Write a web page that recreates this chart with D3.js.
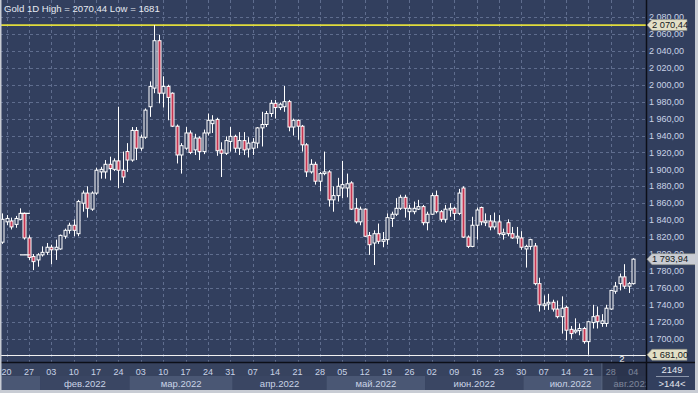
<!DOCTYPE html>
<html><head><meta charset="utf-8">
<script src="https://d3js.org/d3.v7.min.js"></script>
<style>html,body{margin:0;padding:0;background:#323f5e;overflow:hidden}svg{display:block}</style>
</head><body><svg id="c" width="698" height="393"></svg>
<script>
// ---------------- DATA ----------------
const dates = [
"2022-01-19","2022-01-20","2022-01-21","2022-01-24","2022-01-25","2022-01-26","2022-01-27","2022-01-28","2022-01-31",
"2022-02-01","2022-02-02","2022-02-03","2022-02-04","2022-02-07","2022-02-08","2022-02-09","2022-02-10","2022-02-11",
"2022-02-14","2022-02-15","2022-02-16","2022-02-17","2022-02-18","2022-02-21","2022-02-22","2022-02-23","2022-02-24","2022-02-25","2022-02-28",
"2022-03-01","2022-03-02","2022-03-03","2022-03-04","2022-03-07","2022-03-08","2022-03-09","2022-03-10","2022-03-11",
"2022-03-14","2022-03-15","2022-03-16","2022-03-17","2022-03-18","2022-03-21","2022-03-22","2022-03-23","2022-03-24","2022-03-25",
"2022-03-28","2022-03-29","2022-03-30","2022-03-31",
"2022-04-01","2022-04-04","2022-04-05","2022-04-06","2022-04-07","2022-04-08","2022-04-11","2022-04-12","2022-04-13","2022-04-14","2022-04-15",
"2022-04-18","2022-04-19","2022-04-20","2022-04-21","2022-04-22","2022-04-25","2022-04-26","2022-04-27","2022-04-28","2022-04-29",
"2022-05-02","2022-05-03","2022-05-04","2022-05-05","2022-05-06","2022-05-09","2022-05-10","2022-05-11","2022-05-12","2022-05-13",
"2022-05-16","2022-05-17","2022-05-18","2022-05-19","2022-05-20","2022-05-23","2022-05-24","2022-05-25","2022-05-26","2022-05-27","2022-05-30","2022-05-31",
"2022-06-01","2022-06-02","2022-06-03","2022-06-06","2022-06-07","2022-06-08","2022-06-09","2022-06-10","2022-06-13","2022-06-14","2022-06-15","2022-06-16","2022-06-17",
"2022-06-20","2022-06-21","2022-06-22","2022-06-23","2022-06-24","2022-06-27","2022-06-28","2022-06-29","2022-06-30",
"2022-07-01","2022-07-04","2022-07-05","2022-07-06","2022-07-07","2022-07-08","2022-07-11","2022-07-12","2022-07-13","2022-07-14","2022-07-15",
"2022-07-18","2022-07-19","2022-07-20","2022-07-21","2022-07-22","2022-07-25","2022-07-26","2022-07-27","2022-07-28","2022-07-29",
"2022-08-01","2022-08-02","2022-08-03","2022-08-04"];

const open = [1814,1838,1839,1835,1841,1848,1819,1797,1793,
1799,1802,1808,1805,1806,1821,1828,1834,1824,
1860,1872,1853,1872,1897,1897,1906,1900,1910,1899,1921,
1911,1946,1925,1938,1974,1996,2052,1990,1998,
1990,1951,1917,1925,1943,1923,1937,1921,1943,1954,
1959,1923,1919,1933,
1939,1925,1934,1924,1925,1931,1949,1953,1966,1978,1973,
1974,1980,1950,1958,1951,1929,1897,1906,1886,1895,
1897,1864,1869,1878,1878,1884,1854,1838,1853,1822,
1813,1824,1815,1817,1842,1847,1854,1867,1850,1850,1853,1856,
1837,1847,1869,1850,1841,1852,1854,1848,1878,1820,1809,1834,1855,
1837,1839,1832,1838,1823,1837,1824,1819,1819,
1806,1809,1809.5,1765,1739,1741,1743,1735,1726,1737,1711,
1708,1709.5,1712,1696.5,1719,1727,1718,1718,1735,1756,
1765,1773,1762,1765];

const high = [1848,1846,1843,1845,1854,1849,1822,1800,1801,
1809,1813,1811,1817,1823,1830,1837,1841,1864,
1875,1880,1874,1902,1903,1911,1915,1913,1974,1921,1931,
1950,1950,1941,1972,2004,2070.44,2059,2010,2000,
1991,1953,1931,1950,1946,1942,1939,1947,1966,1964,
1961,1932,1939,1950,
1941,1944,1944,1938,1937,1950,1968,1969,1982,1982,1979,
1998.5,1982,1960,1959,1952.5,1931,1912,1909,1897,1921,
1899,1880,1890,1910,1895,1886,1866,1856,1854,1826,
1828,1836,1826,1848,1850,1866,1870,1870,1858,1862,1864,1858,
1850,1872,1875,1852,1858,1860,1856,1877,1880,1822,1844,1855,1856,
1848,1846,1849,1846,1830,1841,1832,1832,1827,
1811,1818,1813,1772,1751,1753,1746,1745,1750,1739,1715,
1724,1718,1714,1721,1740,1738,1729,1740,1757,1767,
1777,1788,1767,1795];

const low = [1812,1834,1829,1831,1840,1817,1793,1781,1785,
1797,1799,1788,1793,1805,1818,1824,1821,1821,
1850,1843,1851,1870,1889,1889,1887,1898,1878,1884,1897,
1909,1911,1922,1936,1962,1990,1978,1973,1958,
1950,1907,1895,1923,1918,1917,1911,1918,1940,1943,
1916,1891,1917,1921,
1920,1917,1917,1914,1917,1925,1927,1950,1962,1960,1970,
1968,1945,1940,1935,1921,1891,1895,1882,1874,1893,
1856,1850,1862,1866,1867,1852,1836,1834,1820,1799,
1787,1812,1808,1811,1832,1845,1852,1843,1840,1847,1852,1834,
1828,1846,1848,1838,1837,1844,1840,1846,1819,1807,1808,1817,1834,
1833,1828,1829,1822,1817,1821,1818,1812,1805,
1784,1805,1763,1732,1734,1734,1732,1724,1706,1698,1700,
1706,1704,1694,1681,1712,1712,1714,1714,1734,1753,
1757,1759,1754,1764];

const close = [1841,1842,1832,1842,1848,1819,1796,1791,1799,
1802,1808,1805,1808,1822,1828,1834,1828,1862,
1872,1854,1872,1899,1900,1906,1901,1910,1899,1891,1911,
1946,1925,1938,1970,1998,2052,1990,1998,1985,
1951,1917,1928,1943,1920,1937,1921,1943,1958,1958,
1922,1919,1934,1939,
1925,1934,1923,1931,1932,1949,1953,1966,1978,1973,1977,
1980,1950,1958,1951,1929,1897,1906,1886,1895,1897,
1864,1869,1880,1882,1883,1853,1838,1853,1821,1811,
1824,1815,1817,1843,1847,1854,1867,1854,1854,1854,1856,1837,
1847,1869,1850,1841,1853,1854,1848,1872,1820,1809,1834,1852,1838,
1839,1832,1838,1824,1825,1824,1819,1821,1808,
1809,1817,1765,1740,1741,1743,1735,1726,1736,1710,1706,
1710,1712,1696.5,1720,1726,1720,1721,1736,1757,1762,
1773,1762,1765,1793.94];

const weekTicks = ["2022-01-20","2022-01-27","2022-02-03","2022-02-10","2022-02-17","2022-02-24",
"2022-03-03","2022-03-10","2022-03-17","2022-03-24","2022-03-31","2022-04-07","2022-04-14","2022-04-21","2022-04-28",
"2022-05-05","2022-05-12","2022-05-19","2022-05-26","2022-06-02","2022-06-09","2022-06-16","2022-06-23","2022-06-30",
"2022-07-07","2022-07-14","2022-07-21","2022-07-28","2022-08-04"];

const monthKeys = ["2022-01","2022-02","2022-03","2022-04","2022-05","2022-06","2022-07","2022-08"];
const monthLabels = ["","фев.2022","мар.2022","апр.2022","май.2022","июн.2022","июл.2022","авг.2022"];

const yTicks = [2080,2060,2040,2020,2000,1980,1960,1940,1920,1900,1880,1860,1840,1820,1800,1780,1760,1740,1720,1700];

// horizontal annotation segments (index from, index to, price)
const levelMarks = [{from:4, to:6.2, value:1848},{from:4, to:6.2, value:1799}];

const title = "Gold 1D High = 2070,44 Low = 1681";
const barCount = 2149, visibleBars = 144;

// ---------------- CHART ----------------
const W = 698, H = 393, plotR = 646, plotB = 362;
const BG = "#323f5e", GRID = "#5f6d8e", TXT = "#c9d3e6", BEAR = "#c43652";
const FONT = "'Liberation Sans', Arial, sans-serif";

const svg = d3.select("#c");
svg.append("rect").attr("width", W).attr("height", H).attr("fill", BG);

const x = d3.scalePoint().domain(dates).range([2.1, 633.2]);
const y = d3.scaleLinear().domain([1680, 2080]).range([355.6, 17]);
const xi = d3.scaleLinear().domain([0, dates.length - 1]).range([2.1, 633.2]);

const ru = d3.formatLocale({decimal: ",", thousands: " ", grouping: [3], currency: ["", ""]});
const fmt = ru.format(",.2f");

svg.append("clipPath").attr("id", "pc").append("rect").attr("x", 0).attr("y", 0).attr("width", plotR).attr("height", plotB);
const plot = svg.append("g").attr("clip-path", "url(#pc)");

// grid
plot.selectAll("line.hg").data(yTicks).join("line")
  .attr("x1", 0).attr("x2", plotR)
  .attr("y1", d => Math.round(y(d)) + 0.5).attr("y2", d => Math.round(y(d)) + 0.5)
  .attr("stroke", GRID).attr("stroke-dasharray", "3,3");
plot.selectAll("line.vg").data(weekTicks).join("line")
  .attr("x1", d => Math.round(x(d)) + 0.5).attr("x2", d => Math.round(x(d)) + 0.5)
  .attr("y1", 0).attr("y2", plotB)
  .attr("stroke", GRID).attr("stroke-dasharray", "3,3");

// level lines
plot.append("line").attr("x1", 0).attr("x2", plotR)
  .attr("y1", y(d3.max(high))).attr("y2", y(d3.max(high)))
  .attr("stroke", "#e0dc3c").attr("stroke-width", 1.6);
plot.append("line").attr("x1", 0).attr("x2", plotR)
  .attr("y1", Math.round(y(d3.min(low))) + 0.5).attr("y2", Math.round(y(d3.min(low))) + 0.5)
  .attr("stroke", "#f2f2f2").attr("stroke-width", 1.2);

// candles
const candles = dates.map((d, i) => ({d, o: open[i], h: high[i], l: low[i], c: close[i]}));
const cg = plot.selectAll("g.cd").data(candles).join("g");
cg.append("line")
  .attr("x1", d => Math.round(x(d.d)) + 0.5).attr("x2", d => Math.round(x(d.d)) + 0.5)
  .attr("y1", d => y(d.h)).attr("y2", d => y(d.l))
  .attr("stroke", "#ffffff").attr("stroke-width", 1);
cg.append("rect")
  .attr("x", d => Math.round(x(d.d)) - 1)
  .attr("width", 3)
  .attr("y", d => y(Math.max(d.o, d.c)))
  .attr("height", d => Math.max(1, Math.abs(y(d.o) - y(d.c))))
  .attr("fill", d => d.c < d.o ? BEAR : BG)
  .attr("stroke", "#ffffff").attr("stroke-width", 1);

// annotation segments
plot.selectAll("line.lm").data(levelMarks).join("line")
  .attr("x1", d => xi(d.from)).attr("x2", d => xi(d.to))
  .attr("y1", d => y(d.value)).attr("y2", d => y(d.value))
  .attr("stroke", "#ffffff").attr("stroke-width", 1.2);

// title
svg.append("text").attr("x", 4).attr("y", 12).attr("fill", "#e6eaf2")
  .attr("font-family", FONT).attr("font-size", 9.6).text(title);

// small "2" marker
svg.append("text").attr("x", (x(dates[138]) + x(dates[139])) / 2).attr("y", 361.5)
  .attr("text-anchor", "middle").attr("fill", "#ffffff")
  .attr("font-family", FONT).attr("font-size", 9.5).text("2");

// ---------- x axis ----------
const ax = svg.append("g");
ax.append("rect").attr("x", 0).attr("y", plotB).attr("width", plotR).attr("height", H - plotB).attr("fill", "#37435f");
// month bands
const monthData = monthKeys.map((k, i) => {
  const idx = dates.map((d, j) => d.startsWith(k) ? j : -1).filter(j => j >= 0);
  const first = idx[0], last = idx[idx.length - 1];
  const x0 = first === 0 ? 0 : (xi(first) + xi(first - 1)) / 2;
  const x1 = last === dates.length - 1 ? plotR : (xi(last) + xi(last + 1)) / 2;
  return {k, label: monthLabels[i], x0, x1, i};
});
svg.append("clipPath").attr("id", "ac").append("rect").attr("x", 0).attr("y", plotB).attr("width", plotR).attr("height", H - plotB);
const axc = ax.append("g").attr("clip-path", "url(#ac)");
axc.selectAll("rect.mb").data(monthData).join("rect")
  .attr("x", d => d.x0).attr("width", d => d.x1 - d.x0)
  .attr("y", 376).attr("height", 14)
  .attr("fill", d => d.i % 2 === 0 ? "#4a5774" : "#3a4663");
axc.selectAll("text.ml").data(monthData).join("text")
  .attr("x", d => (d.x0 + d.x1) / 2).attr("y", 386.5)
  .attr("text-anchor", "middle").attr("fill", TXT)
  .attr("font-family", FONT).attr("font-size", 9.5).text(d => d.label);
axc.selectAll("text.dl").data(weekTicks).join("text")
  .attr("x", d => x(d)).attr("y", 374.5)
  .attr("text-anchor", "middle").attr("fill", TXT)
  .attr("font-family", FONT).attr("font-size", 9).text(d => d.slice(8));
// dim overlay for last bars
const ovX = x(dates[134]);
ax.append("rect").attr("x", ovX).attr("y", plotB + 1).attr("width", plotR - ovX).attr("height", H - plotB - 4)
  .attr("fill", "#1c2438").attr("opacity", 0.45);
ax.append("line").attr("x1", ovX).attr("x2", ovX).attr("y1", plotB + 1).attr("y2", 390)
  .attr("stroke", "#5a6680").attr("stroke-width", 1);

// axis separator lines
svg.append("line").attr("x1", 0).attr("x2", W).attr("y1", plotB + 0.5).attr("y2", plotB + 0.5).attr("stroke", "#0c0f18").attr("stroke-width", 1.5);
svg.append("line").attr("x1", plotR + 0.5).attr("x2", plotR + 0.5).attr("y1", 0).attr("y2", 390).attr("stroke", "#0c0f18").attr("stroke-width", 1.5);

// ---------- y axis ----------
svg.selectAll("text.yl").data(yTicks).join("text")
  .attr("x", 649).attr("y", d => y(d)).attr("dy", "0.35em")
  .attr("fill", TXT).attr("font-family", FONT).attr("font-size", 9).text(d => fmt(d));

function priceBox(v, right, fill) {
  const yy = y(v), h = 5.5;
  svg.append("path")
    .attr("d", `M${plotR + 1},${yy} L${plotR + 6},${yy - h} L${right},${yy - h} L${right},${yy + h} L${plotR + 6},${yy + h} Z`)
    .attr("fill", fill).attr("stroke", "#8a8c80").attr("stroke-width", 0.6);
  svg.append("text").attr("x", plotR + 6).attr("y", yy).attr("dy", "0.36em")
    .attr("fill", "#141820").attr("font-family", FONT).attr("font-size", 9.3).text(fmt(v));
}
priceBox(d3.max(high), 687, "#e2dfc6");
priceBox(close[close.length - 1], 696, "#c9ccd3");
priceBox(d3.min(low), 687, "#e2dfc6");

// bottom-right cell
svg.append("text").attr("x", 672).attr("y", 373).attr("text-anchor", "middle").attr("fill", "#e2e6ee")
  .attr("font-family", FONT).attr("font-size", 9.5).text(barCount);
svg.append("line").attr("x1", 656).attr("x2", 689).attr("y1", 376.5).attr("y2", 376.5).attr("stroke", "#8c96aa");
svg.append("text").attr("x", 672).attr("y", 386.5).attr("text-anchor", "middle").attr("fill", "#e2e6ee")
  .attr("font-family", FONT).attr("font-size", 9.5).text(">" + visibleBars + "<");

// frame
svg.append("rect").attr("x", 0).attr("y", 0).attr("width", 1.5).attr("height", H).attr("fill", "#c8ccd4");
svg.append("rect").attr("x", 695).attr("y", 0).attr("width", 3).attr("height", H).attr("fill", "#c8ccd4");
svg.append("rect").attr("x", 0).attr("y", 390).attr("width", W).attr("height", 3).attr("fill", "#c8ccd4");
</script>
</body></html>
